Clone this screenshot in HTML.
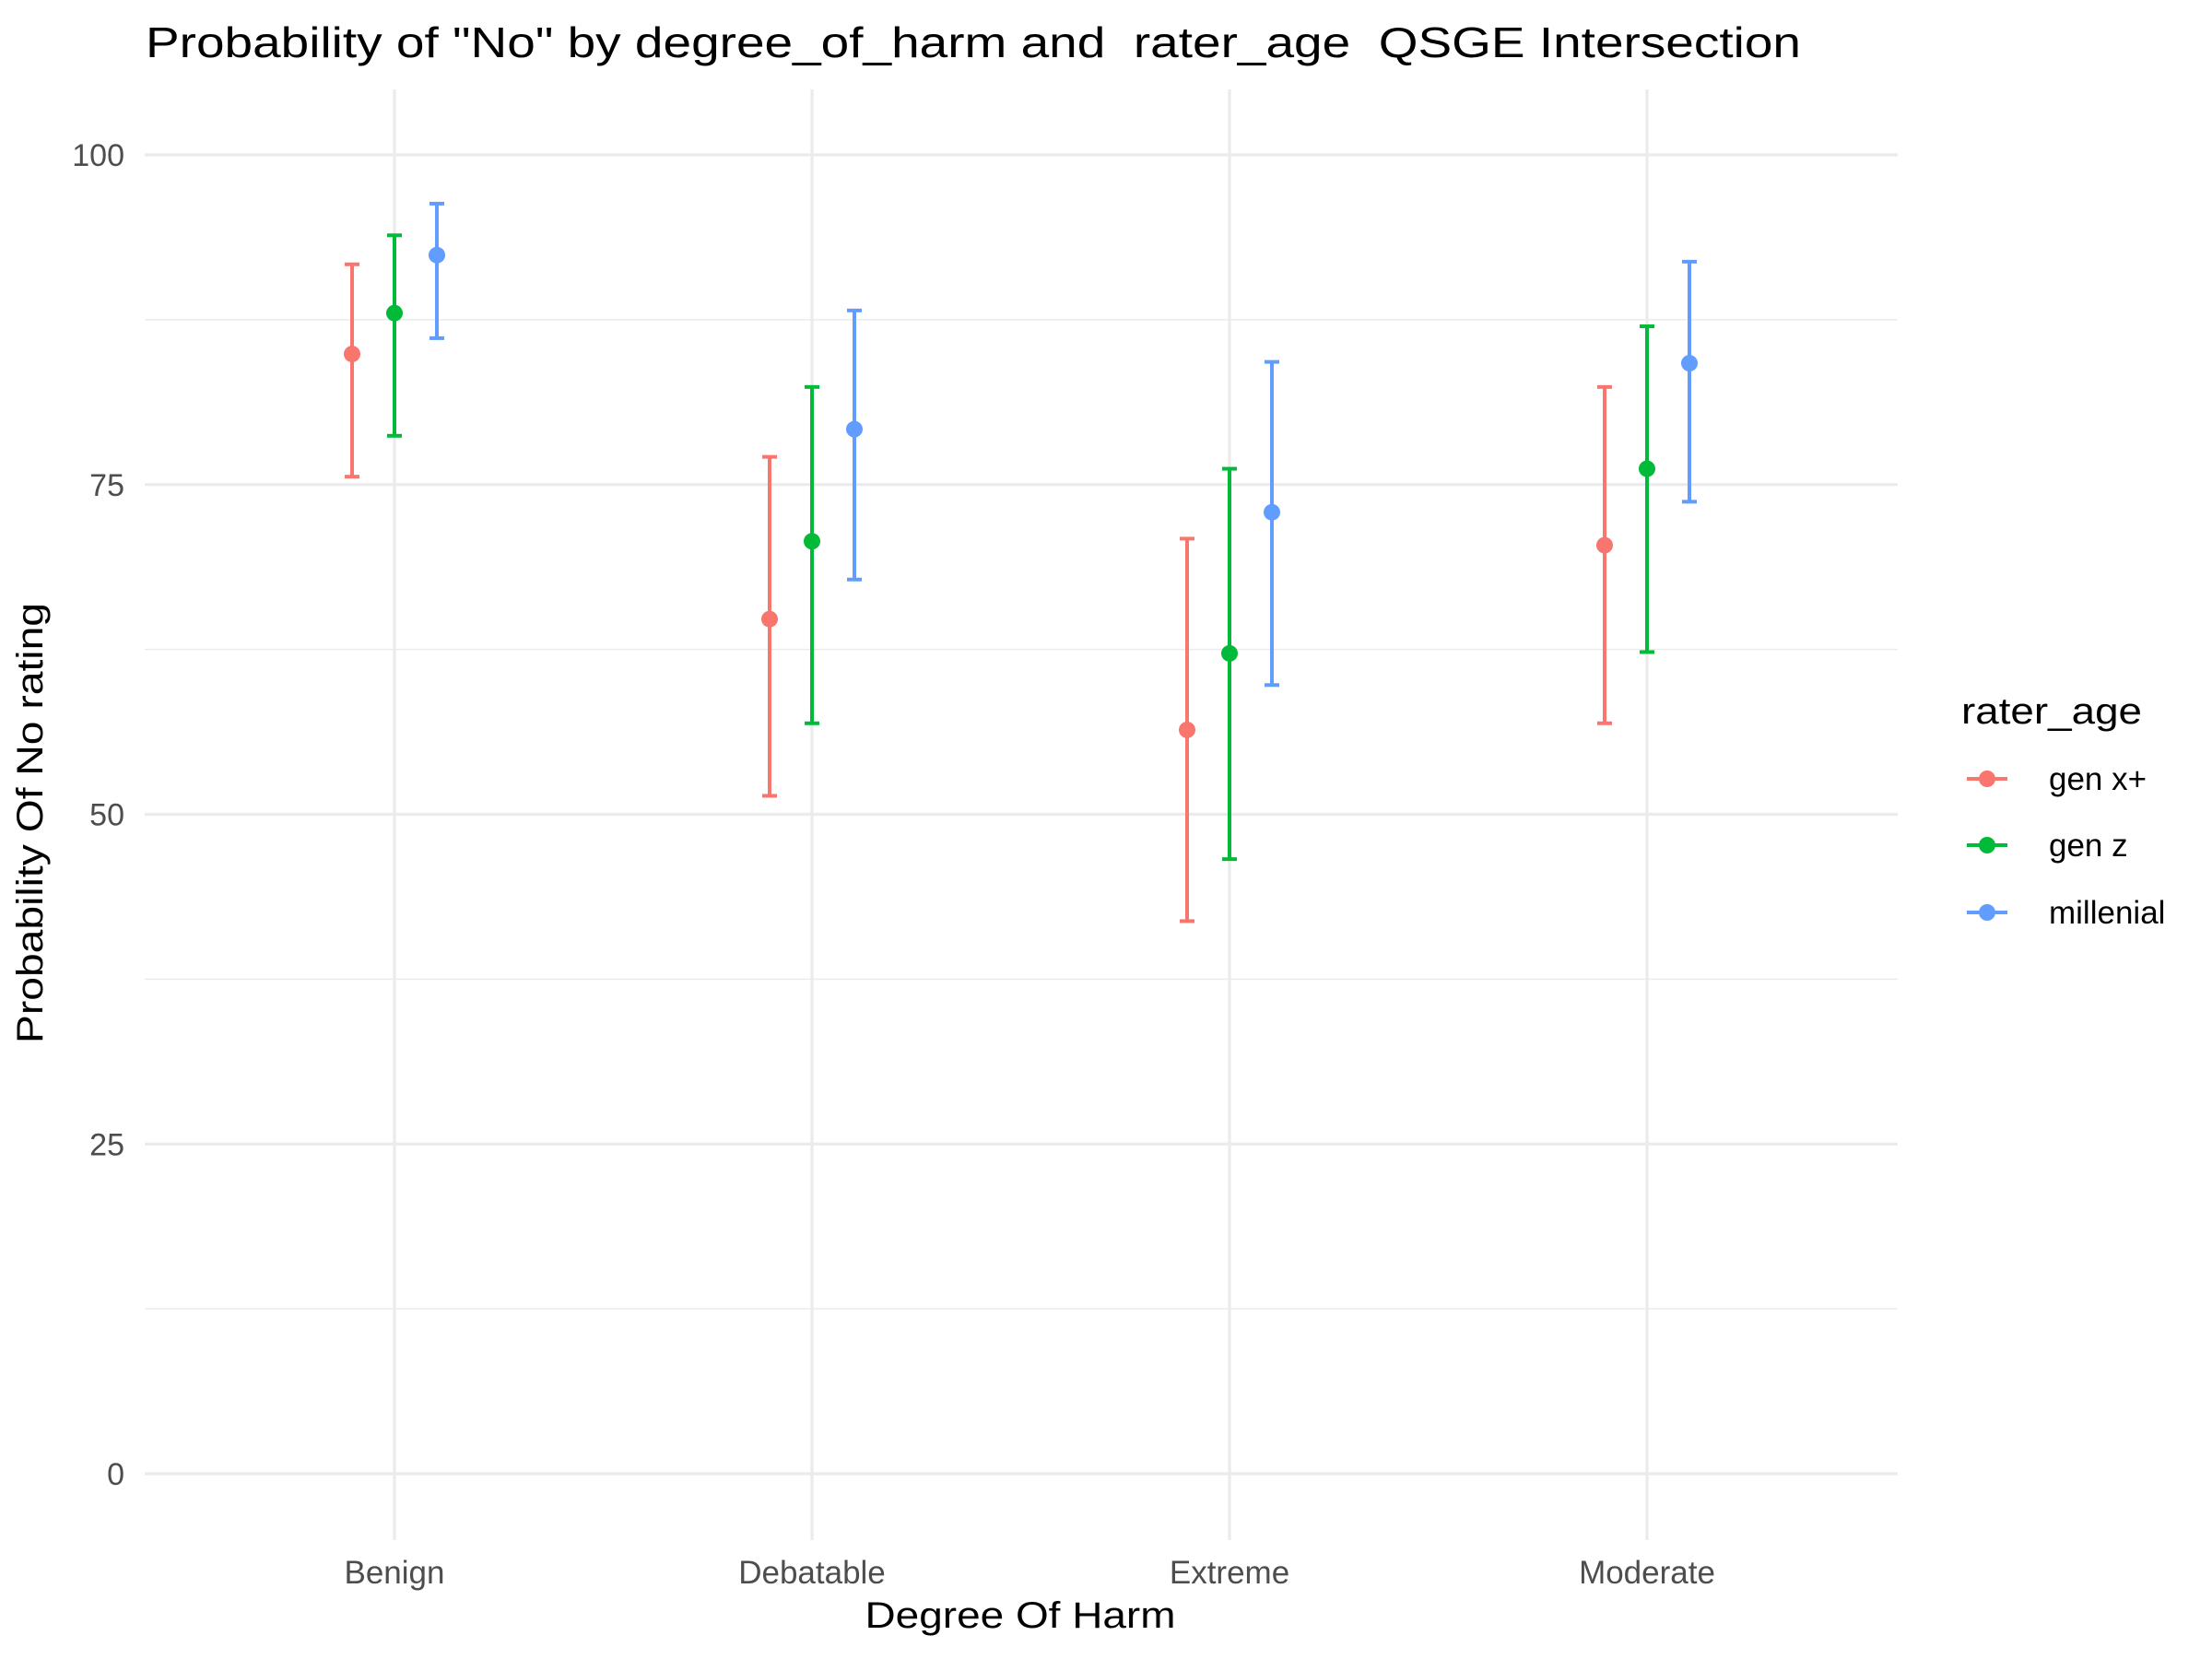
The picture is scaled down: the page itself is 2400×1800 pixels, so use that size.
<!DOCTYPE html>
<html><head><meta charset="utf-8"><style>html,body{margin:0;padding:0;background:#fff}svg{display:block}</style></head>
<body>
<svg id="chart" width="2400" height="1800" xmlns="http://www.w3.org/2000/svg" font-family="Liberation Sans, sans-serif">
<text x="158" y="62" font-size="46" fill="#000" style="white-space:pre" xml:space="preserve" textLength="1796" lengthAdjust="spacingAndGlyphs">Probability of "No" by degree_of_harm and  rater_age  QSGE Intersection</text>
<g id="grid"></g>
<g id="yticks"></g>
<g id="xticks"></g>
<g id="marks"></g>
<text transform="translate(46,893) rotate(-90)" text-anchor="middle" font-size="40" fill="#000" textLength="478" lengthAdjust="spacingAndGlyphs">Probability Of No rating</text>
<text x="1107" y="1766" text-anchor="middle" font-size="40" fill="#000" textLength="337" lengthAdjust="spacingAndGlyphs">Degree Of Harm</text>
<g id="legend">
<text x="2128" y="785" font-size="40" fill="#000" textLength="196" lengthAdjust="spacingAndGlyphs">rater_age</text>
</g>
</svg>
<script>
const categories = ["Benign","Debatable","Extreme","Moderate"];
const groups = ["gen x+","gen z","millenial"];
const colors = ["#F8766D","#00BA38","#619CFF"];
const genxMean = [84.9, 64.8, 56.4, 70.4];
const genxLow  = [75.6, 51.4, 41.9, 56.9];
const genxHigh = [91.7, 77.1, 70.9, 82.4];
const genzMean = [88.0, 70.7, 62.2, 76.2];
const genzLow  = [78.7, 56.9, 46.6, 62.3];
const genzHigh = [93.9, 82.4, 76.2, 87.0];
const milMean  = [92.4, 79.2, 72.9, 84.2];
const milLow   = [86.1, 67.8, 59.8, 73.7];
const milHigh  = [96.3, 88.2, 84.3, 91.9];
const yTicks = [0, 25, 50, 75, 100];
const yMinor = [12.5, 37.5, 62.5, 87.5];

const NS = "http://www.w3.org/2000/svg";
const panel = {left:157, right:2059, top:97, bottom:1671};
const y0px = 1599, y100px = 168;
function yScale(v){ return y0px + (y100px - y0px) * v / 100; }
const catStep = 453, cat0 = 428;
function xScale(i){ return cat0 + i * catStep; }
function mk(tag, attrs, parent){ const e = document.createElementNS(NS, tag); for (const k in attrs) e.setAttribute(k, attrs[k]); parent.appendChild(e); return e; }

const grid = document.getElementById('grid');
yMinor.forEach(v => {
  const l = mk('line', {x1:panel.left, x2:panel.right, y1:yScale(v), y2:yScale(v), stroke:'#ebebeb', 'stroke-width':1.6}, grid);
  
  
});
yTicks.forEach(v => {
  const l = mk('line', {x1:panel.left, x2:panel.right, y1:yScale(v), y2:yScale(v), stroke:'#ebebeb', 'stroke-width':3.2}, grid);
  
  
  const t = mk('text', {x:135, y:yScale(v)+12, 'text-anchor':'end', 'font-size':34, fill:'#4d4d4d'}, document.getElementById('yticks'));
  t.textContent = v;
  
  
});
categories.forEach((c, i) => {
  const l = mk('line', {x1:xScale(i), x2:xScale(i), y1:panel.top, y2:panel.bottom, stroke:'#ebebeb', 'stroke-width':3.2}, grid);
  
  
  const t = mk('text', {x:xScale(i), y:1718, 'text-anchor':'middle', 'font-size':35, fill:'#4d4d4d'}, document.getElementById('xticks'));
  t.textContent = c;
  
  
});

const series = [[genxMean, genxLow, genxHigh],[genzMean, genzLow, genzHigh],[milMean, milLow, milHigh]];
const dodge = 46;
const marks = document.getElementById('marks');
series.forEach((s, g) => {
  const [m, lo, hi] = s;
  categories.forEach((c, i) => {
    const x = xScale(i) + (g - 1) * dodge;
    const grp = mk('g', {}, marks);
    
    
    mk('line', {x1:x, x2:x, y1:yScale(lo[i]), y2:yScale(hi[i]), stroke:colors[g], 'stroke-width':4}, grp);
    mk('line', {x1:x-8, x2:x+8, y1:yScale(lo[i]), y2:yScale(lo[i]), stroke:colors[g], 'stroke-width':4}, grp);
    mk('line', {x1:x-8, x2:x+8, y1:yScale(hi[i]), y2:yScale(hi[i]), stroke:colors[g], 'stroke-width':4}, grp);
    mk('circle', {cx:x, cy:yScale(m[i]), r:9, fill:colors[g]}, grp);
  });
});

const legend = document.getElementById('legend');
const legendY = [845, 917, 990];
groups.forEach((name, g) => {
  const e = mk('g', {}, legend);
  
  
  mk('line', {x1:2134, x2:2178, y1:legendY[g], y2:legendY[g], stroke:colors[g], 'stroke-width':4}, e);
  mk('circle', {cx:2156, cy:legendY[g], r:9, fill:colors[g]}, e);
  const t = mk('text', {x:2223, y:legendY[g]+12, 'font-size':35, fill:'#000'}, e);
  t.textContent = name;
});
</script>
</body></html>
